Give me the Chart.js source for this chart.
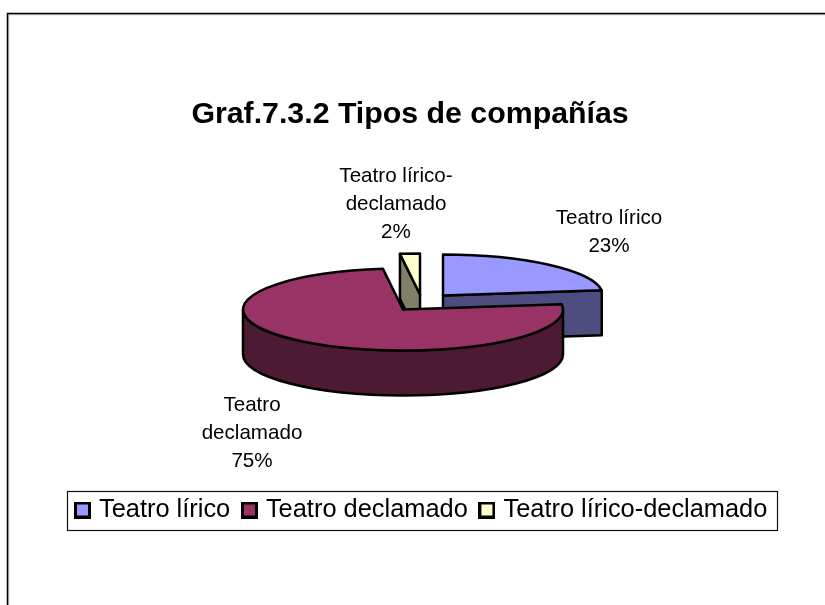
<!DOCTYPE html>
<html><head><meta charset="utf-8">
<style>html,body{margin:0;padding:0;background:#fff}#w{position:relative;width:825px;height:605px}</style>
<script src="https://cdn.jsdelivr.net/npm/chart.js@4"></script>
</head><body><div id="w"><canvas id="c" width="825" height="605"></canvas></div>
<script>
const categories = ['Teatro lírico','Teatro declamado','Teatro lírico-declamado'];
const values = [23,75,2];
const topColors = ['#9999FF','#993366','#FFFFCC'];
const sideColors = ['#4D4D80','#4D1A33','#808066'];
const chartTitle = 'Graf.7.3.2 Tipos de compañías';

// presentation: pixel position of each slice apex, tilt, depth
const apex = [[443,295.5],[403,309.5],[420,294.5]];
const RY = 41, DEPTH = 45, LINE = 2.5;
const labelLines = [['Teatro lírico'],['Teatro','declamado'],['Teatro lírico-','declamado']];
const labelPos = [[609,218],[252,405],[396,176]];
const labelFont = '20.6px "Liberation Sans", Arial, sans-serif';
const labelGap = 28;
const legendBox = {left:67,top:491,right:777,bottom:530};

function marker(color){
  const m = document.createElement('canvas'); m.width = 17; m.height = 17;
  const g = m.getContext('2d');
  g.fillStyle = '#000'; g.fillRect(0,0,17,17);
  g.fillStyle = color; g.fillRect(3,3,11,11);
  return m;
}

const pie3d = {
  id:'pie3d',
  beforeDraw(chart){
    const c = chart.ctx;
    c.save();
    c.strokeStyle='#bbb'; c.lineWidth=1;
    c.beginPath(); c.moveTo(8.7,605); c.lineTo(8.7,14.7); c.lineTo(825,14.7); c.stroke();
    c.strokeStyle='#000'; c.lineWidth=1.5;
    c.beginPath(); c.moveTo(7.5,605); c.lineTo(7.5,13.5); c.lineTo(825,13.5); c.stroke();
    c.lineWidth=1.2; c.strokeStyle='#111';
    c.strokeRect(legendBox.left+.5, legendBox.top+.5, legendBox.right-legendBox.left, legendBox.bottom-legendBox.top);
    c.restore();
  },
  afterLayout(chart){
    const l = chart.legend;
    l.left = 63.3; l.right = 800; l.top = 482;
    chart.titleBlock.left -= 5;
  },
  beforeDatasetDraw(chart,args){
    const c = chart.ctx;
    const arcs = chart.getDatasetMeta(args.index).data;
    [2,0,1].forEach(i=>{
      const el = arcs[i], R = el.outerRadius, [ax,ay] = apex[i];
      const a0 = el.startAngle, a1 = el.endAngle, k = RY/R;
      const px = a=>ax+R*Math.cos(a), py = a=>ay+R*k*Math.sin(a);
      const wall = (draw)=>{ c.beginPath(); draw(); c.closePath(); c.fillStyle=sideColors[i]; c.fill(); c.strokeStyle='#000'; c.lineWidth=LINE; c.lineJoin='round'; c.stroke(); };
      // visible curved wall: the part of the rim facing the viewer
      const s = Math.max(a0,0), e = Math.min(a1,Math.PI);
      if(e>s) wall(()=>{
        c.ellipse(ax,ay,R,R*k,0,s,e);
        c.ellipse(ax,ay+DEPTH,R,R*k,0,e,s,true);
      });
      // visible flat cut faces
      const face = a=>wall(()=>{ c.moveTo(ax,ay); c.lineTo(px(a),py(a)); c.lineTo(px(a),py(a)+DEPTH); c.lineTo(ax,ay+DEPTH); });
      if(i===0) face(a1);
      if(i===2) face(a0);
      // top face: the library's arc, tilted and moved to its exploded position
      c.save();
      c.translate(ax,ay); c.scale(1,k); c.translate(-el.x,-el.y);
      el.draw(c);
      c.restore();
      c.beginPath();
      c.moveTo(ax,ay); c.ellipse(ax,ay,R,R*k,0,a0,a1); c.closePath();
      c.strokeStyle='#000'; c.lineWidth=LINE; c.lineJoin='round'; c.stroke();
    });
    return false;
  },
  afterDraw(chart){
    const c = chart.ctx, total = values.reduce((a,b)=>a+b,0);
    c.save();
    c.font = labelFont; c.fillStyle='#000'; c.textAlign='center'; c.textBaseline='middle';
    values.forEach((v,i)=>{
      const lines = labelLines[i].concat(Math.round(v/total*100)+'%');
      lines.forEach((t,j)=>c.fillText(t,labelPos[i][0],labelPos[i][1]+j*labelGap));
    });
    c.restore();
  }
};

new Chart(document.getElementById('c'),{
  type:'pie',
  data:{labels:categories,datasets:[{data:values,backgroundColor:topColors,borderWidth:0,radius:160}]},
  options:{
    responsive:false,animation:false,
    layout:{padding:{top:96}},
    plugins:{
      tooltip:{enabled:false},
      title:{display:true,text:chartTitle,color:'#000',padding:{top:0,bottom:10},
        font:{family:'"Liberation Sans", Arial, sans-serif',size:30.3,weight:'bold'}},
      legend:{position:'bottom',align:'start',labels:{
        font:{family:'"Liberation Sans", Arial, sans-serif',size:25.4},color:'#000',
        usePointStyle:true,pointStyleWidth:7.7,boxHeight:17,padding:15.3,
        generateLabels(chart){
          return Chart.overrides.doughnut.plugins.legend.labels.generateLabels(chart)
            .map((o,i)=>Object.assign(o,{pointStyle:marker(topColors[i])}));
        }}}
    }
  },
  plugins:[pie3d]
});
</script></body></html>
